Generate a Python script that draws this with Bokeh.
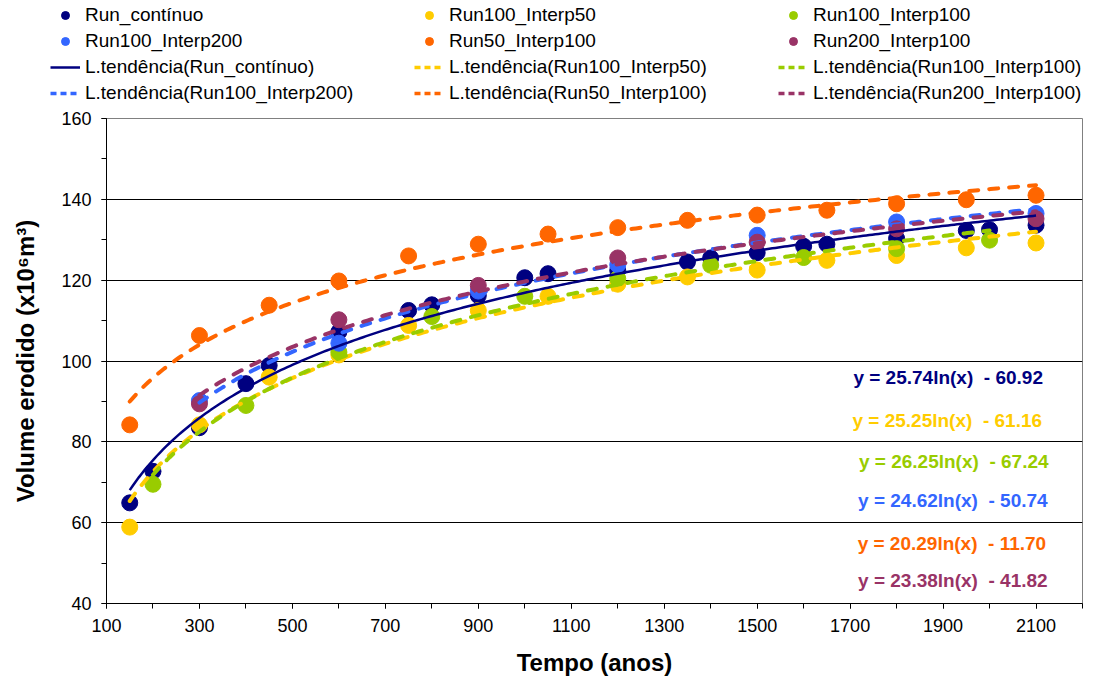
import numpy as np
from bokeh.plotting import figure
from bokeh.layouts import column
from bokeh.models import Legend, LegendItem, Range1d, FixedTicker, Label
from bokeh.embed import file_html
from bokeh.resources import INLINE

# ---------------- data ----------------
t_cont = [150, 200, 300, 400, 450, 600, 750, 800, 900, 1000, 1050, 1200, 1350, 1400,
          1500, 1600, 1650, 1800, 1950, 2000, 2100]
v_cont = [64.9, 72.7, 83.5, 94.4, 98.9, 107.2, 112.5, 113.9, 116.2, 120.6, 121.6, 122.4,
          124.5, 125.5, 126.8, 128.4, 128.9, 130.3, 132.3, 132.5, 133.6]

t_150 = [150, 300, 450, 600, 750, 900, 1050, 1200, 1350, 1500, 1650, 1800, 1950, 2100]
v_r100_i50 = [58.9, 84.2, 96.0, 101.5, 108.8, 112.5, 116.0, 119.0, 120.8, 122.5, 124.9,
              126.1, 128.0, 129.2]
v_r50_i100 = [84.2, 106.3, 113.8, 119.8, 126.0, 128.9, 131.4, 133.0, 134.8, 136.1, 137.3,
              138.9, 139.9, 141.0]

t_200 = [200, 400, 600, 800, 1000, 1200, 1400, 1600, 1800, 2000]
v_r100_i100 = [69.5, 89.0, 102.2, 111.0, 116.0, 120.4, 123.7, 125.6, 127.8, 129.9]

t_300 = [300, 600, 900, 1200, 1500, 1800, 2100]
v_r100_i200 = [90.2, 104.4, 117.3, 123.8, 131.1, 134.4, 136.5]
v_r200_i100 = [89.4, 110.2, 118.7, 125.5, 129.4, 132.7, 135.2]

series_names = ["Run_contínuo", "Run100_Interp50", "Run100_Interp100",
                "Run100_Interp200", "Run50_Interp100", "Run200_Interp100"]
series_t = [t_cont, t_150, t_200, t_300, t_150, t_300]
series_v = [v_cont, v_r100_i50, v_r100_i100, v_r100_i200, v_r50_i100, v_r200_i100]
colors = ["#000080", "#FFCC00", "#99CC00", "#3366FF", "#FF6600", "#993366"]

# logarithmic trendline coefficients (y = a ln(x) + b) as printed on the chart
trend_a = [25.74, 25.25, 26.25, 24.62, 20.29, 23.38]
trend_b = [-60.92, -61.16, -67.24, -50.74, -11.70, -41.82]
eq_texts = ["y = 25.74ln(x)\u00a0 - 60.92", "y = 25.25ln(x)\u00a0 - 61.16",
            "y = 26.25ln(x)\u00a0 - 67.24", "y = 24.62ln(x)\u00a0 - 50.74",
            "y = 20.29ln(x)\u00a0 - 11.70", "y = 23.38ln(x)\u00a0 - 41.82"]
eq_x = [1911, 1909, 1923, 1921, 1919, 1921]
eq_y = [95.9, 85.3, 75.1, 65.5, 54.9, 45.7]

x_major = [100, 300, 500, 700, 900, 1100, 1300, 1500, 1700, 1900, 2100]
x_minor = list(range(100, 2201, 100))
y_major = [40, 60, 80, 100, 120, 140, 160]
y_minor = list(range(40, 161, 10))

FONT = "Liberation Sans"
LEG_H = 110
DASH = "9 11"

p = figure(width=1099, height=686 - LEG_H, x_range=Range1d(100, 2200), y_range=Range1d(40, 160),
           output_backend="svg", toolbar_location=None,
           min_border_left=106, min_border_right=17, min_border_top=118 - LEG_H,
           min_border_bottom=83)
p.background_fill_color = "white"
p.border_fill_color = "white"
p.outline_line_color = "#808080"

p.xaxis.ticker = FixedTicker(ticks=x_major, minor_ticks=x_minor)
p.yaxis.ticker = FixedTicker(ticks=y_major, minor_ticks=y_minor)
p.xgrid.grid_line_color = None
p.ygrid.grid_line_color = "#000000"
p.ygrid.grid_line_width = 1

for ax in (p.xaxis[0], p.yaxis[0]):
    ax.axis_line_color = "black"
    ax.major_tick_line_color = "black"
    ax.minor_tick_line_color = "black"
    ax.major_tick_in = 0
    ax.major_tick_out = 5
    ax.minor_tick_in = 0
    ax.minor_tick_out = 5
    ax.major_label_text_font = FONT
    ax.major_label_text_font_size = "18px"
    ax.major_label_text_color = "black"
    ax.major_label_standoff = 10
    ax.axis_label_text_font = FONT
    ax.axis_label_text_font_style = "bold"
    ax.axis_label_text_font_size = "24px"
    ax.axis_label_text_color = "black"

p.xaxis.axis_label = "Tempo (anos)"
p.yaxis.axis_label = "Volume erodido (x10⁶m³)"
p.xaxis.axis_label_standoff = 14
p.yaxis.axis_label_standoff = 19

for name, t, v, c in zip(series_names, series_t, series_v, colors):
    p.scatter(t, v, size=16, color=c, line_color=c)

for i, (name, t, c) in enumerate(zip(series_names, series_t, colors)):
    xs = np.linspace(min(t), max(t), 300)
    ys = trend_a[i] * np.log(xs) + trend_b[i]
    if i == 0:
        p.line(xs, ys, line_color=c, line_width=2.5)
    else:
        p.line(xs, ys, line_color=c, line_width=4, line_dash=DASH, line_cap="round")

for txt, x, y, c in zip(eq_texts, eq_x, eq_y, colors):
    p.add_layout(Label(x=x, y=y, text=txt, text_color=c, text_font=FONT,
                       text_font_style="bold", text_font_size="19px",
                       text_align="center", text_baseline="middle"))

# ---------------- legend strip above the chart ----------------
lg = figure(width=1099, height=LEG_H, x_range=Range1d(0, 1), y_range=Range1d(0, 1),
            output_backend="svg", toolbar_location=None,
            x_axis_location=None, y_axis_location=None,
            min_border_left=0, min_border_right=0, min_border_top=0, min_border_bottom=0)
lg.frame_align = False
lg.grid.grid_line_color = None
lg.outline_line_color = None

# one off-screen point per proxy renderer so that the legend glyphs are drawn
hidden_x = [-10]
hidden_y = [-10]
scatter_items = []
line_items = []
for name, c in zip(series_names, colors):
    r = lg.scatter(hidden_x, hidden_y, size=13, color=c, line_color=c)
    scatter_items.append(LegendItem(label=name, renderers=[r]))
for i, (name, c) in enumerate(zip(series_names, colors)):
    if i == 0:
        r = lg.line(hidden_x * 2, hidden_y * 2, line_color=c, line_width=2.5)
    else:
        r = lg.line(hidden_x * 2, hidden_y * 2, line_color=c, line_width=3.5,
                    line_dash="6 4")
    line_items.append(LegendItem(label="L.tendência(" + name + ")", renderers=[r]))

legend = Legend(items=scatter_items + line_items, location=(50, 6),
                orientation="horizontal", ncols=3,
                glyph_width=30, glyph_height=20, label_height=20, label_width=325,
                label_standoff=5, spacing=4, padding=0, margin=0,
                border_line_color=None, background_fill_alpha=0,
                label_text_font=FONT, label_text_font_size="19px",
                label_text_color="black")
lg.add_layout(legend, "center")

layout = column(lg, p, spacing=0)
open("out.html", "w").write(file_html(layout, INLINE))
